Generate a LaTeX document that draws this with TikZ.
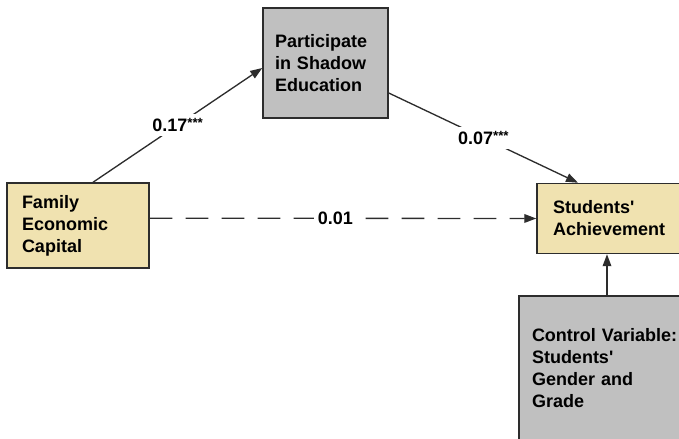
\documentclass[tikz,border=0pt]{standalone}
\usepackage{fontspec}
\setmainfont{Liberation Sans}
\usetikzlibrary{arrows.meta}
\definecolor{boxtan}{RGB}{240,226,176}
\definecolor{boxgray}{RGB}{192,192,192}
\definecolor{linegray}{RGB}{45,45,45}
\newcommand{\sigstars}{\raisebox{3pt}{\fontsize{10}{10}\selectfont***}}
\begin{document}
\begin{tikzpicture}[x=0.75pt,y=-0.75pt,>={Triangle[length=9pt,width=6.5pt]},
    var/.style={draw=linegray,line width=1.1pt,align=left,inner ysep=0pt,
        font=\bfseries\fontsize{13.5}{16.5}\selectfont},
    lbl/.style={fill=white,inner sep=3pt,font=\bfseries\fontsize{13.5}{16.5}\selectfont},
    path/.style={draw=linegray,line width=1pt}]
    \useasboundingbox (0,0) rectangle (679,439);
    % variables
    \node[var,fill=boxtan,inner xsep=11.25pt,text width=84pt,minimum height=63.75pt] (fam) at (78,225.5) {Family\\Economic\\Capital};
    \node[var,fill=boxgray,inner xsep=9pt,text width=75.75pt,minimum height=82.5pt] (par) at (325.5,63) {Participate\\in Shadow\\Education};
    \node[var,fill=boxtan,inner xsep=12pt,text width=88.5pt,minimum height=52.5pt] (ach) at (612,218.5) {Students\textquotesingle\\Achievement};
    \node[var,fill=boxgray,inner xsep=9.75pt,text width=112.5pt,minimum height=108.75pt] (ctl) at (607,368.5) {Control Variable:\\Students\textquotesingle\\Gender and\\Grade};
    % paths
    \draw[path,->] ([xshift=11.25pt]fam.north) -- node[lbl]{0.17\sigstars} ([yshift=-3.75pt]par.west);
    \draw[path,->] ([yshift=-22.5pt]par.east) -- node[lbl]{0.07\sigstars} ([xshift=-25.5pt]ach.north);
    \draw[path,->,dash pattern=on 17pt off 10pt] ([yshift=5.5pt]fam.east) -- node[lbl,pos=0.48]{0.01} (ach.west);
    \draw[path,->] (ctl.north) -- (ctl.north |- ach.south);
\end{tikzpicture}
\end{document}
